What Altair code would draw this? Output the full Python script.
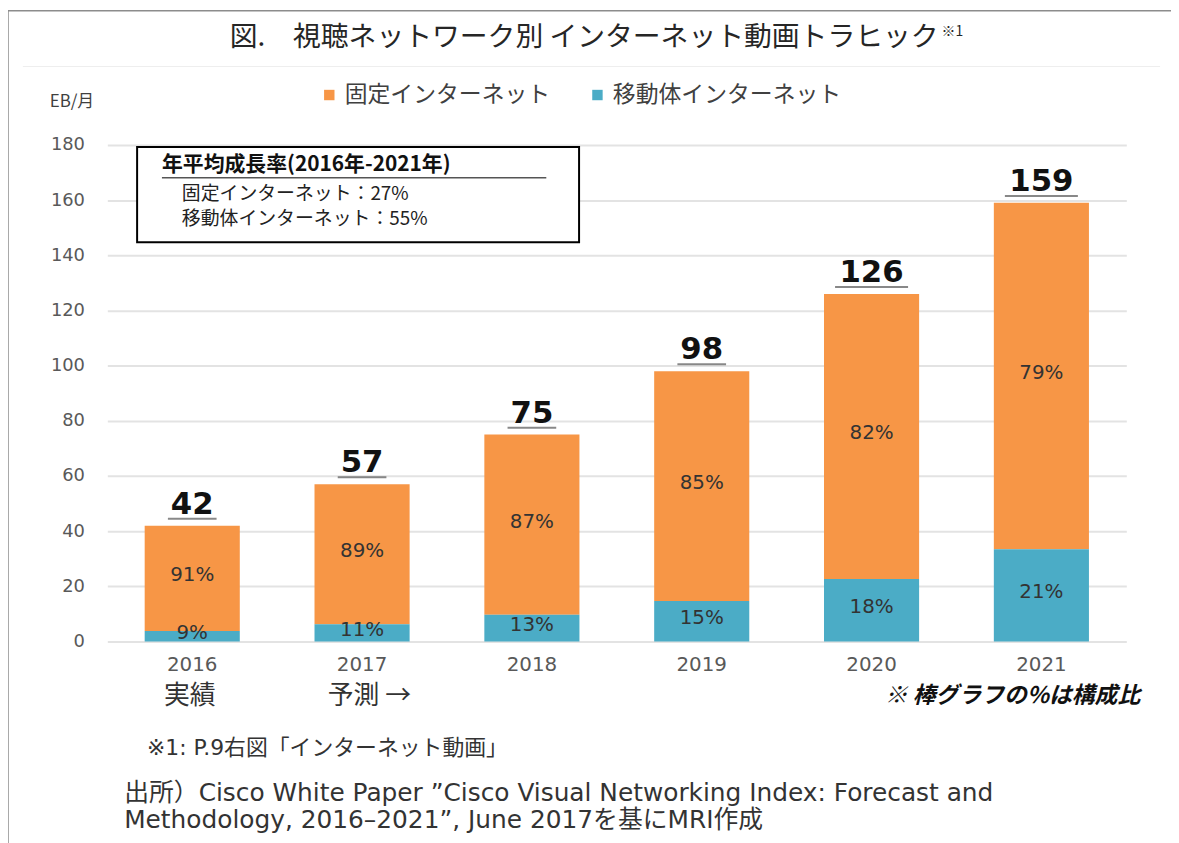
import altair as alt
import pandas as pd

# ---- data ----
years = ["2016", "2017", "2018", "2019", "2020", "2021"]
totals = [42, 57, 75, 98, 126, 159]
fixed_vals = [38.2, 50.7, 65.3, 83.3, 103.3, 125.6]
mobile_vals = [3.8, 6.3, 9.7, 14.7, 22.7, 33.4]
fixed_pct = ["91%", "89%", "87%", "85%", "82%", "79%"]
mobile_pct = ["9%", "11%", "13%", "15%", "18%", "21%"]
series = ["固定インターネット", "移動体インターネット"]
colors = ["#F79646", "#4BACC6"]
y_ticks = [0, 20, 40, 60, 80, 100, 120, 140, 160, 180]

rows = []
for i, y in enumerate(years):
    rows.append({"year": y, "series": series[0], "value": fixed_vals[i], "pct": fixed_pct[i], "ord": 1})
    rows.append({"year": y, "series": series[1], "value": mobile_vals[i], "pct": mobile_pct[i], "ord": 0})
df = pd.DataFrame(rows)
tot_df = pd.DataFrame({"year": years, "total": totals})

JP = "Noto Sans CJK JP"
MIX = "DejaVu Sans, Noto Sans CJK JP"

xenc = alt.X("year:N", sort=years,
             scale=alt.Scale(paddingInner=0.44, paddingOuter=0.22),
             axis=alt.Axis(title=None, labelAngle=0, ticks=False, domain=False,
                           labelFont="DejaVu Sans", labelFontSize=20,
                           labelColor="#595959", labelPadding=13))
yscale = alt.Scale(domain=[0, 180])

bars = alt.Chart(df).mark_bar().encode(
    x=xenc,
    y=alt.Y("value:Q", stack="zero", scale=yscale,
            axis=alt.Axis(title=None, values=y_ticks, ticks=False, domain=False,
                          labelFont="DejaVu Sans", labelFontSize=18,
                          labelColor="#595959", labelPadding=23,
                          gridColor="#e3e3e3", gridWidth=2)),
    color=alt.Color("series:N", scale=alt.Scale(domain=series, range=colors),
                    legend=alt.Legend(orient="none", legendX=212, legendY=-62,
                                      direction="horizontal", title=None,
                                      symbolType="square", symbolSize=110,
                                      symbolStrokeWidth=0, labelLimit=0,
                                      labelFont=JP, labelFontSize=23,
                                      labelColor="#404040", columnPadding=36,
                                      labelOffset=4)),
    order=alt.Order("ord:Q", sort="ascending"),
)

pct = alt.Chart(df).transform_stack(
    stack="value", groupby=["year"], sort=[alt.SortField("ord", order="ascending")],
    as_=["v0", "v1"]
).transform_calculate(mid="(datum.v0 + datum.v1) / 2").mark_text(
    font="DejaVu Sans", fontSize=20, color="#333333", dy=-3
).encode(x=alt.X("year:N", sort=years), y=alt.Y("mid:Q", scale=yscale), text="pct:N")

tot_text = alt.Chart(tot_df).mark_text(
    font="DejaVu Sans", fontWeight="bold", fontSize=31, color="#111111",
    baseline="alphabetic", dy=-12
).encode(x=alt.X("year:N", sort=years), y=alt.Y("total:Q", scale=yscale), text="total:Q")

tot_line = alt.Chart(tot_df).transform_calculate(
    ul="length(toString(datum.total)) * 24.5"
).mark_tick(thickness=2, color="#555555", yOffset=-7).encode(
    x=alt.X("year:N", sort=years), y=alt.Y("total:Q", scale=yscale),
    size=alt.Size("ul:Q", scale=None, legend=None))

one = pd.DataFrame({"k": [0]})


def note(text, x, y, size, align="left", font=JP, weight="normal", style="normal",
         color="#333333", baseline="middle"):
    return alt.Chart(one).mark_text(
        text=text, align=align, baseline=baseline, font=font, fontSize=size,
        fontWeight=weight, fontStyle=style, color=color
    ).encode(x=alt.value(x), y=alt.value(y))


def rule(x, x2, y, y2, color, w):
    return alt.Chart(one).mark_rule(color=color, strokeWidth=w).encode(
        x=alt.value(x), x2=alt.value(x2), y=alt.value(y), y2=alt.value(y2))


box = alt.Chart(one).mark_rect(fill="white", stroke="black", strokeWidth=2).encode(
    x=alt.value(30), x2=alt.value(475), y=alt.value(2), y2=alt.value(98))

layers = [
    rule(-100, -100, -135, 720, "#8c8c8c", 1.5),
    rule(-100, 1080, -135, -135, "#8c8c8c", 1.5),
    rule(-85, 1060, -79, -79, "#eeeeee", 1),
    bars, pct, tot_line, tot_text,
    box,
    note("年平均成長率(2016年-2021年)", 55, 20, 21, weight="bold", color="#111111"),
    rule(55, 442, 33, 33, "#555555", 1.5),
    note("固定インターネット：27%", 75, 49, 19, color="#222222"),
    note("移動体インターネット：55%", 75, 75, 19, color="#222222"),
    note("図.　視聴ネットワーク別 インターネット動画トラヒック", 837, -108, 28, align="right",
         color="#262626"),
    note("※1", 840, -114, 14, color="#262626"),
    note("EB/月", -58, -43, 17, color="#404040"),
    note("実績", 57, 555, 26),
    note("予測 →", 222, 555, 26),
    note("※ 棒グラフの%は構成比", 1040, 555, 23, align="right", weight="bold", style="italic",
         color="#111111"),
    note("※1: P.9右図「インターネット動画」", 40, 607, 22, font=MIX),
    note("出所）Cisco White Paper ”Cisco Visual Networking Index: Forecast and", 17, 653, 25,
         font=MIX),
    note("Methodology, 2016–2021”, June 2017を基にMRI作成", 17, 680, 25, font=MIX),
]

chart = alt.layer(*layers).properties(
    width=1026, height=500,
    padding={"left": 100, "top": 135, "right": 45, "bottom": 200},
    autosize=alt.AutoSizeParams(type="none"),
).configure_view(stroke=None)

chart.save("out.html", embed_options={"renderer": "svg", "actions": False})
